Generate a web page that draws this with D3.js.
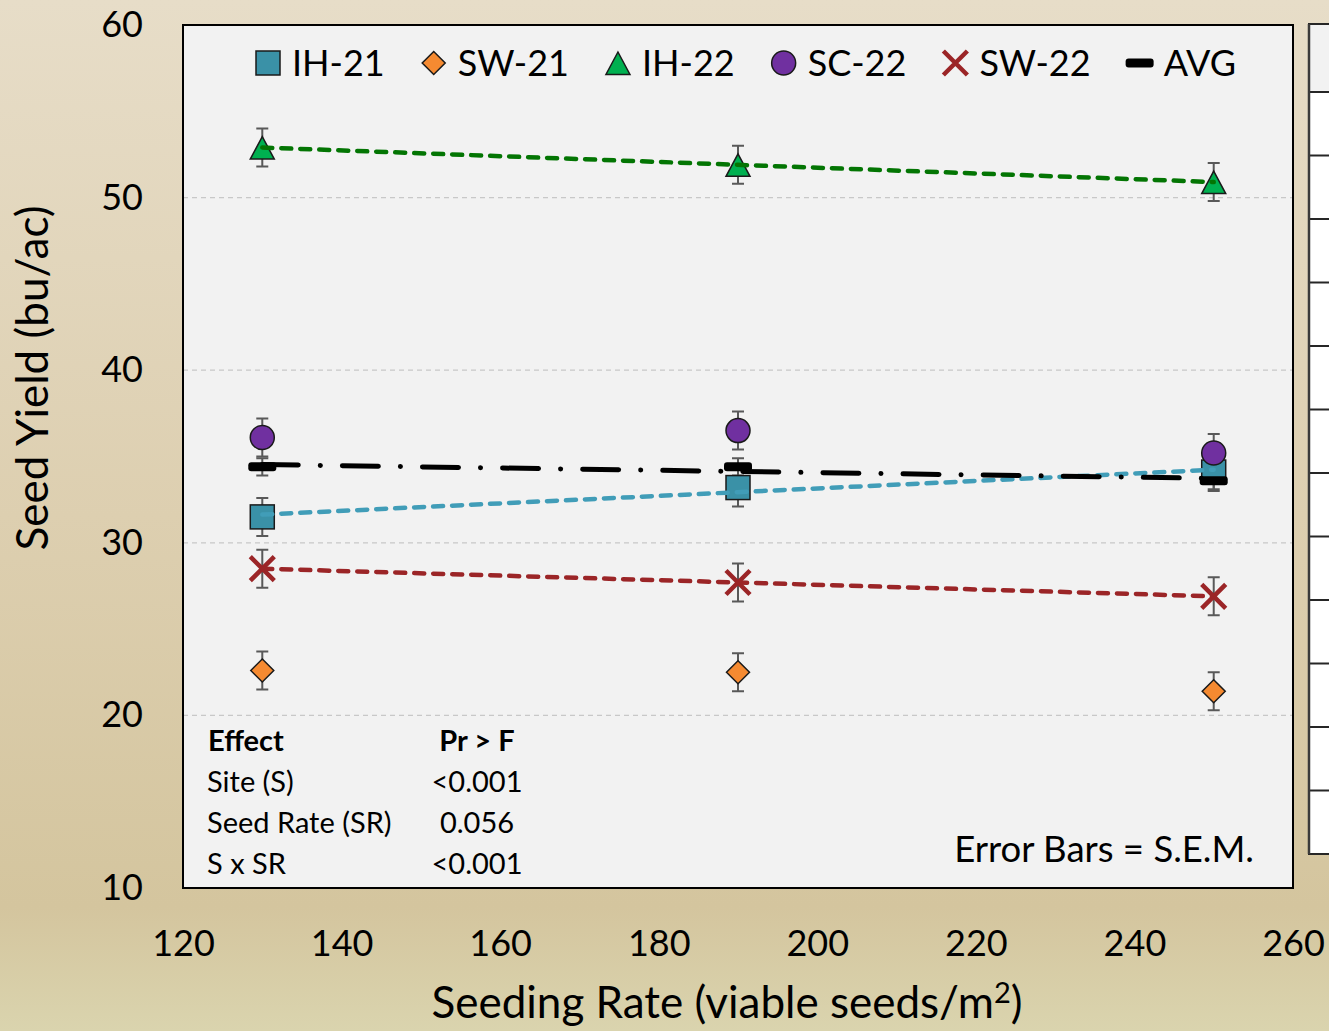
<!DOCTYPE html>
<html>
<head>
<meta charset="utf-8">
<script src="https://cdn.jsdelivr.net/npm/d3@7"></script>
<style>
body { margin: 0; overflow: hidden; }
svg { display: block; font-family: Lato, "Open Sans", sans-serif; }
</style>
</head>
<body>
<div id="chart"></div>
<script>
// seeding rates (viable seeds/m2)
var seedRates = [130, 190, 250];
var xTicks = [120, 140, 160, 180, 200, 220, 240, 260];
var yTicks = [10, 20, 30, 40, 50, 60];
var gridTicks = [20, 30, 40, 50];

var seriesNames = ["IH-21", "SW-21", "IH-22", "SC-22", "SW-22", "AVG"];

// seed yield (bu/ac)
var ih21Yield = [31.5, 33.2, 34.1];
var sw21Yield = [22.6, 22.5, 21.4];
var ih22Yield = [52.9, 51.9, 50.9];
var sc22Yield = [36.1, 36.5, 35.2];
var sw22Yield = [28.5, 27.7, 26.9];
var avgYield  = [34.4, 34.4, 33.6];

// standard errors
var ih21Sem = [1.1, 1.1, 1.1];
var sw21Sem = [1.1, 1.1, 1.1];
var ih22Sem = [1.1, 1.1, 1.1];
var sc22Sem = [1.1, 1.1, 1.1];
var sw22Sem = [1.1, 1.1, 1.1];
var avgSem  = [0.5, 0.5, 0.5];

// ANOVA summary
var effectNames = ["Site (S)", "Seed Rate (SR)", "S x SR"];
var effectPValues = ["<0.001", "0.056", "<0.001"];

var W = 1329, H = 1031;
var plot = { left: 183, top: 25, right: 1293, bottom: 888 };

var series = [
    { name: seriesNames[0], values: ih21Yield, sem: ih21Sem, shape: "square",   fill: "#3a91a7", trend: "#419db8" },
    { name: seriesNames[1], values: sw21Yield, sem: sw21Sem, shape: "diamond",  fill: "#f58a31", trend: null },
    { name: seriesNames[2], values: ih22Yield, sem: ih22Sem, shape: "triangle", fill: "#00b050", trend: "#037503" },
    { name: seriesNames[3], values: sc22Yield, sem: sc22Sem, shape: "circle",   fill: "#7030a0", trend: null },
    { name: seriesNames[4], values: sw22Yield, sem: sw22Sem, shape: "cross",    fill: "#9b2527", trend: "#9b2527" },
    { name: seriesNames[5], values: avgYield,  sem: avgSem,  shape: "bar",      fill: "#000000", trend: "#000000" }
];

var svg = d3.select("#chart").append("svg")
    .attr("width", W)
    .attr("height", H);

var grad = svg.append("defs").append("linearGradient")
    .attr("id", "bg").attr("x1", 0).attr("y1", 0).attr("x2", 0).attr("y2", 1);
grad.append("stop").attr("offset", "0%").attr("stop-color", "#e7ddc8");
grad.append("stop").attr("offset", "50%").attr("stop-color", "#ddcfb0");
grad.append("stop").attr("offset", "88%").attr("stop-color", "#d4c59e");
grad.append("stop").attr("offset", "100%").attr("stop-color", "#dad4ae");

svg.append("rect").attr("width", W).attr("height", H).attr("fill", "url(#bg)");

var x = d3.scaleLinear().domain([120, 260]).range([plot.left, plot.right]);
var y = d3.scaleLinear().domain([10, 60]).range([plot.bottom, plot.top]);

// right-hand table, mostly cut off by the frame edge
var tableTop = 24, tableBottom = 854, headerBottom = 92, tableRows = 12;
svg.append("rect")
    .attr("x", 1308).attr("y", tableTop)
    .attr("width", 40).attr("height", tableBottom - tableTop)
    .attr("fill", "#ffffff");
svg.append("rect")
    .attr("x", 1308).attr("y", tableTop)
    .attr("width", 40).attr("height", headerBottom - tableTop)
    .attr("fill", "#f2f2f2");
var rowH = (tableBottom - headerBottom) / tableRows;
svg.append("g").selectAll("line")
    .data(d3.range(tableRows + 2))
    .enter().append("line")
    .attr("x1", 1308).attr("x2", W)
    .attr("y1", function(i) { return i == 0 ? tableTop : headerBottom + (i - 1) * rowH; })
    .attr("y2", function(i) { return i == 0 ? tableTop : headerBottom + (i - 1) * rowH; })
    .attr("stroke", "#262626")
    .attr("stroke-width", 2);
svg.append("line")
    .attr("x1", 1309).attr("x2", 1309)
    .attr("y1", tableTop).attr("y2", tableBottom)
    .attr("stroke", "#3a3a3a").attr("stroke-width", 2.5);

// plot area
svg.append("rect")
    .attr("x", plot.left).attr("y", plot.top)
    .attr("width", plot.right - plot.left).attr("height", plot.bottom - plot.top)
    .attr("fill", "#f2f2f2");

svg.append("g").selectAll("line")
    .data(gridTicks)
    .enter().append("line")
    .attr("x1", plot.left).attr("x2", plot.right)
    .attr("y1", function(d) { return y(d); })
    .attr("y2", function(d) { return y(d); })
    .attr("stroke", "#c8c8c8")
    .attr("stroke-width", 1.3)
    .attr("stroke-dasharray", "5 4");

svg.append("rect")
    .attr("x", plot.left).attr("y", plot.top)
    .attr("width", plot.right - plot.left).attr("height", plot.bottom - plot.top)
    .attr("fill", "none")
    .attr("stroke", "#000")
    .attr("stroke-width", 2);

// axes
var xAxis = svg.append("g")
    .attr("transform", "translate(0," + plot.bottom + ")")
    .call(d3.axisBottom(x).tickValues(xTicks).tickSize(0).tickPadding(42));
var yAxis = svg.append("g")
    .attr("transform", "translate(" + plot.left + ",0)")
    .call(d3.axisLeft(y).tickValues(yTicks).tickSize(0).tickPadding(40));
[xAxis, yAxis].forEach(function(a) {
    a.select(".domain").remove();
    a.selectAll("text")
        .attr("fill", "#000")
        .style("font-family", "Lato, 'Open Sans', sans-serif")
        .style("font-size", "36px");
});

svg.append("text")
    .attr("transform", "translate(48,378) rotate(-90)")
    .attr("text-anchor", "middle")
    .style("font-size", "44px")
    .text("Seed Yield (bu/ac)");

var xt = svg.append("text")
    .attr("x", 727).attr("y", 1018)
    .attr("text-anchor", "middle")
    .style("font-size", "44px");
xt.append("tspan").text("Seeding Rate (viable seeds/m");
xt.append("tspan").attr("dy", -15).style("font-size", "29px").text("2");
xt.append("tspan").attr("dy", 15).text(")");

// marker shapes
function drawMarker(g, shape, fill) {
    if (shape == "square") {
        g.append("rect").attr("x", -12).attr("y", -12).attr("width", 24).attr("height", 24)
            .attr("fill", fill).attr("stroke", "#1a1a1a").attr("stroke-width", 1.5);
    } else if (shape == "diamond") {
        g.append("path").attr("d", "M0,-11.5L11.5,0L0,11.5L-11.5,0Z")
            .attr("fill", fill).attr("stroke", "#1a1a1a").attr("stroke-width", 1.5);
    } else if (shape == "triangle") {
        g.append("path").attr("d", "M0,-11L12,11.5L-12,11.5Z")
            .attr("fill", fill).attr("stroke", "#1a1a1a").attr("stroke-width", 1.5);
    } else if (shape == "circle") {
        g.append("circle").attr("r", 12)
            .attr("fill", fill).attr("stroke", "#1a1a1a").attr("stroke-width", 1.5);
    } else if (shape == "cross") {
        g.append("path").attr("d", "M-12,-12L12,12M12,-12L-12,12")
            .attr("fill", "none").attr("stroke", fill).attr("stroke-width", 4.5);
    } else if (shape == "bar") {
        g.append("rect").attr("x", -14).attr("y", -4.5).attr("width", 28).attr("height", 9).attr("rx", 3)
            .attr("fill", fill);
    }
}

// error bars
var eb = svg.append("g");
series.forEach(function(s) {
    s.values.forEach(function(v, i) {
        var cx = x(seedRates[i]);
        var lo = y(v - s.sem[i]), hi = y(v + s.sem[i]);
        eb.append("path")
            .attr("d", "M" + cx + "," + lo + "V" + hi +
                "M" + (cx - 6) + "," + lo + "H" + (cx + 6) +
                "M" + (cx - 6) + "," + hi + "H" + (cx + 6))
            .attr("stroke", "#595959")
            .attr("stroke-width", 2)
            .attr("fill", "none");
    });
});

// markers
series.forEach(function(s) {
    s.values.forEach(function(v, i) {
        var g = svg.append("g")
            .attr("transform", "translate(" + x(seedRates[i]) + "," + y(v) + ")");
        drawMarker(g, s.shape, s.fill);
    });
});

// linear trend lines
function fitLine(xs, ys) {
    var mx = d3.mean(xs), my = d3.mean(ys);
    var num = d3.sum(xs, function(d, i) { return (d - mx) * (ys[i] - my); });
    var den = d3.sum(xs, function(d) { return (d - mx) * (d - mx); });
    var b = num / den;
    return function(v) { return my + b * (v - mx); };
}

series.forEach(function(s) {
    if (!s.trend) return;
    var f = fitLine(seedRates, s.values);
    var x0 = seedRates[0], x1 = seedRates[seedRates.length - 1];
    svg.append("line")
        .attr("x1", x(x0)).attr("y1", y(f(x0)))
        .attr("x2", x(x1)).attr("y2", y(f(x1)))
        .attr("stroke", s.trend)
        .attr("stroke-width", s.shape == "bar" ? 5 : 4.5)
        .attr("stroke-linecap", "round")
        .attr("stroke-dasharray", s.shape == "bar" ? "36 22 0.1 22" : "10 9");
});

// legend
var legend = svg.append("g").attr("transform", "translate(0,63)");
var lx = 268;
series.forEach(function(s) {
    var g = legend.append("g").attr("transform", "translate(" + lx + ",0)");
    drawMarker(g, s.shape, s.fill);
    var t = legend.append("text")
        .attr("x", lx + 24).attr("y", 13)
        .style("font-size", "36px")
        .text(s.name);
    lx = lx + 24 + t.node().getComputedTextLength() + 49;
});

// effects table
var tbl = svg.append("g").style("font-size", "29px");
tbl.append("text").attr("x", 208).attr("y", 751).style("font-weight", "bold").text("Effect");
tbl.append("text").attr("x", 477).attr("y", 751).attr("text-anchor", "middle")
    .style("font-weight", "bold").text("Pr > F");
effectNames.forEach(function(e, i) {
    tbl.append("text").attr("x", 207).attr("y", 792 + i * 41).text(e);
    tbl.append("text").attr("x", 477).attr("y", 792 + i * 41).attr("text-anchor", "middle")
        .text(effectPValues[i]);
});

svg.append("text")
    .attr("x", 1254).attr("y", 862)
    .attr("text-anchor", "end")
    .style("font-size", "36.5px")
    .text("Error Bars = S.E.M.");
</script>
</body>
</html>
